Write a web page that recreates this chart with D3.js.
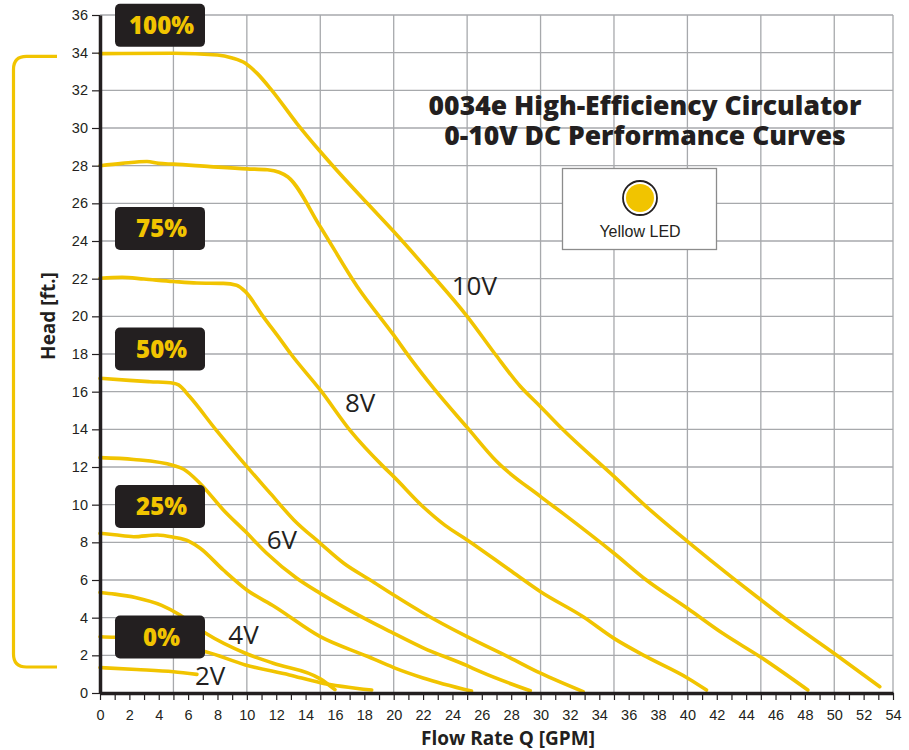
<!DOCTYPE html>
<html lang="en">
    <head>
        <meta charset="utf-8">
        <title>0034e High-Efficiency Circulator 0-10V DC Performance Curves</title>
        <script src="https://cdn.jsdelivr.net/npm/d3@7/dist/d3.min.js"></script>
        <style type="text/css">
            body { margin: 0; background: #fff; }
            svg { font-family: "Open Sans", sans-serif; }
            .axis text { font-size: 14.5px; fill: #231f20; }
            .axis line { stroke: #231f20; stroke-width: 1.2; }
            .axis path { stroke: #231f20; stroke-width: 3.5; }
            .grid line { stroke: #a7a9ac; stroke-width: 1.3; }
        </style>
    </head>
    <body>
        <script type="text/javascript">

            // head [ft] vs flow [GPM]
            var curve10V = [[0,33.95],[5,33.97],[8,33.88],[9,33.72],[9.9,33.44],[10.7,32.9],[11.7,32.0],[13.4,30.25],[15,28.75],[16,27.86],[18.2,26.0],[20,24.5],[22.5,22.3],[25,20.0],[26.9,18.0],[28.6,16.3],[30,15.2],[31.5,14.0],[35,11.5],[37.2,9.9],[40,8.05],[43.1,6.1],[45,4.95],[46.5,4.05],[50,2.1],[53.1,0.33]];
            var curve9V = [[0,28.0],[1.5,28.12],[3.2,28.22],[4,28.12],[5,28.08],[7.5,27.95],[10,27.83],[11.4,27.78],[12.2,27.65],[12.8,27.4],[15,24.76],[17.5,21.6],[20,19.0],[21.2,17.7],[22.7,16.2],[25,14.1],[27,12.3],[30,10.43],[31.5,9.55],[35,7.42],[37.2,6.0],[40,4.5],[42.4,3.17],[45,1.9],[48.2,0.16]];
            var curve8V = [[0,22.02],[1.5,22.07],[3,21.98],[5,21.85],[6.6,21.77],[8.4,21.75],[9.3,21.65],[9.9,21.31],[11.1,20.0],[12.3,18.75],[13,18.0],[15,16.09],[17,13.97],[19.3,12.02],[20,11.49],[22,9.89],[23.5,8.9],[25,8.13],[27.9,6.53],[30,5.38],[32.9,4.05],[35,2.9],[37.2,1.93],[40,0.8],[41.3,0.16]];
            var curve7V = [[0,16.71],[2,16.6],[3.4,16.53],[5,16.45],[5.35,16.36],[6.1,15.74],[7.9,13.97],[9.9,12.11],[11.6,10.6],[13.2,9.19],[15,7.95],[16.6,6.89],[18.4,6.0],[20,5.2],[22,4.25],[25,2.99],[27.9,1.88],[30,1.05],[32.9,0.07]];
            var curve6V = [[0,12.5],[2.3,12.4],[5,12.08],[5.7,11.88],[6.8,11.14],[8.4,9.72],[9.9,8.57],[11.35,7.42],[13.4,6.09],[15,5.29],[18.2,3.88],[20,3.17],[22,2.4],[25,1.45],[25.9,1.13],[29.3,0.12]];
            var curve5V = [[0,8.48],[1,8.4],[2.3,8.3],[3.9,8.39],[5,8.27],[6.1,8.04],[6.8,7.7],[8.4,6.53],[10,5.47],[11.9,4.58],[15,2.99],[18.2,1.95],[20,1.35],[22,0.8],[25.3,0.1]];
            var curve4V = [[0,5.34],[1,5.25],[2.4,5.07],[4.2,4.65],[5.45,4.14],[7.2,3.17],[9.9,2.11],[11.8,1.58],[15,0.75],[16,0.18]];
            var curve3V = [[0,2.99],[1,2.96],[4,2.62],[7.2,2.19],[9.9,1.49],[12.9,0.96],[15,0.55],[18.5,0.16]];
            var curve2V = [[0,1.35],[2.5,1.25],[5,1.13],[6.6,0.99]];
            var curves = [curve10V, curve9V, curve8V, curve7V, curve6V, curve5V, curve4V, curve3V, curve2V];

            var voltLabels = ["10V", "8V", "6V", "4V", "2V"];
            var voltLabelAt = [[23.95,21.14],[16.68,14.94],[11.35,7.63],[8.74,2.6],[6.47,0.42]];

            var speedLabels = ["100%", "75%", "50%", "25%", "0%"];
            var speedLabelHead = [35.45, 24.67, 18.27, 9.9, 2.97];

            var xTicks = d3.range(0, 55, 1);
            var yTicks = d3.range(0, 37, 2);
            var xGrid = d3.range(0, 55, 5).concat([54]);

            var w = 909;
            var h = 750;
            var padL = 100, padR = 893, padT = 15, padB = 693;
            var yellow = "#f1c400";
            var ink = "#231f20";

            var svg = d3.select("body")
                .append("svg")
                .attr("width", w)
                .attr("height", h);

            var xScale = d3.scaleLinear().domain([0, 54]).range([padL, padR]);
            var yScale = d3.scaleLinear().domain([0, 36]).range([padB, padT]);

            // grid
            var grid = svg.append("g").attr("class", "grid");
            grid.selectAll("line.v")
                .data(xGrid)
                .enter()
                .append("line")
                .attr("class", "v")
                .attr("x1", function(d) { return xScale(d); })
                .attr("x2", function(d) { return xScale(d); })
                .attr("y1", padT)
                .attr("y2", padB);
            grid.selectAll("line.h")
                .data(yTicks)
                .enter()
                .append("line")
                .attr("class", "h")
                .attr("x1", padL)
                .attr("x2", padR)
                .attr("y1", function(d) { return yScale(d); })
                .attr("y2", function(d) { return yScale(d); });

            // title, two lines
            svg.selectAll("text.title")
                .data(["0034e High-Efficiency Circulator", "0-10V DC Performance Curves"])
                .enter()
                .append("text")
                .attr("class", "title")
                .attr("x", 645)
                .attr("y", function(d, i) { return 115 + i * 30; })
                .attr("text-anchor", "middle")
                .style("font-size", "26.5px")
                .style("font-weight", "800")
                .attr("fill", ink)
                .text(function(d) { return d; });

            // legend
            var legend = svg.append("g");
            legend.append("rect")
                .attr("x", 562.5).attr("y", 168.5)
                .attr("width", 154).attr("height", 81)
                .attr("fill", "#fff")
                .attr("stroke", "#8c8c8c")
                .attr("stroke-width", 1.3);
            legend.append("circle")
                .attr("cx", 640).attr("cy", 198).attr("r", 17)
                .attr("fill", "#fff")
                .attr("stroke", ink)
                .attr("stroke-width", 1.8);
            legend.append("circle")
                .attr("cx", 640).attr("cy", 198).attr("r", 14)
                .attr("fill", yellow);
            legend.append("text")
                .attr("x", 640).attr("y", 237)
                .attr("text-anchor", "middle")
                .style("font-family", "'Liberation Sans', Arial, sans-serif")
                .style("font-size", "16px")
                .attr("fill", ink)
                .text("Yellow LED");

            // curves
            var line = d3.line()
                .x(function(d) { return xScale(d[0]); })
                .y(function(d) { return yScale(d[1]); })
                .curve(d3.curveMonotoneX);
            svg.selectAll("path.curve")
                .data(curves)
                .enter()
                .append("path")
                .attr("class", "curve")
                .attr("d", line)
                .attr("fill", "none")
                .attr("stroke", yellow)
                .attr("stroke-width", 3.6)
                .attr("stroke-linecap", "round");

            // voltage labels
            svg.selectAll("text.volt")
                .data(voltLabels)
                .enter()
                .append("text")
                .attr("class", "volt")
                .attr("x", function(d, i) { return xScale(voltLabelAt[i][0]); })
                .attr("y", function(d, i) { return yScale(voltLabelAt[i][1]); })
                .style("font-size", "26px")
                .attr("fill", ink)
                .text(function(d) { return d; });

            // axes
            var xAxis = d3.axisBottom(xScale)
                .tickValues(xTicks)
                .tickSize(7)
                .tickSizeOuter(0)
                .tickPadding(10)
                .tickFormat(function(d) { return d % 2 === 0 ? d : ""; });
            var yAxis = d3.axisLeft(yScale)
                .tickValues(yTicks)
                .tickSize(8)
                .tickSizeOuter(0)
                .tickPadding(4);
            svg.append("g")
                .attr("class", "axis")
                .attr("transform", "translate(0," + padB + ")")
                .call(xAxis);
            svg.append("g")
                .attr("class", "axis")
                .attr("transform", "translate(" + padL + ",0)")
                .call(yAxis);

            svg.append("text")
                .attr("x", 508)
                .attr("y", 745)
                .attr("text-anchor", "middle")
                .style("font-size", "19px")
                .style("font-weight", "700")
                .attr("fill", ink)
                .text("Flow Rate Q [GPM]");
            svg.append("text")
                .attr("transform", "translate(55,316) rotate(-90)")
                .attr("text-anchor", "middle")
                .style("font-size", "19px")
                .style("font-weight", "700")
                .attr("fill", ink)
                .text("Head [ft.]");

            // speed boxes
            var boxes = svg.selectAll("g.speed")
                .data(speedLabels)
                .enter()
                .append("g")
                .attr("class", "speed")
                .attr("transform", function(d, i) { return "translate(160," + yScale(speedLabelHead[i]) + ")"; });
            boxes.append("rect")
                .attr("x", -45).attr("y", -21.5)
                .attr("width", 90).attr("height", 43)
                .attr("rx", 5)
                .attr("fill", ink);
            boxes.append("text")
                .attr("x", 1.5)
                .attr("dy", "0.36em")
                .attr("text-anchor", "middle")
                .style("font-size", "24px")
                .style("font-weight", "800")
                .attr("fill", yellow)
                .text(function(d) { return d; });

            // bracket from the top curve to the bottom one
            var bt = yScale(33.8), bb = yScale(1.38), bx = 13.5, bend = 57, r = 13;
            svg.append("path")
                .attr("d", "M" + bend + "," + bt + "H" + (bx + r) + "Q" + bx + "," + bt + " " + bx + "," + (bt + r) +
                    "V" + (bb - r) + "Q" + bx + "," + bb + " " + (bx + r) + "," + bb + "H" + bend)
                .attr("fill", "none")
                .attr("stroke", yellow)
                .attr("stroke-width", 3.2);

        </script>
    </body>
</html>
